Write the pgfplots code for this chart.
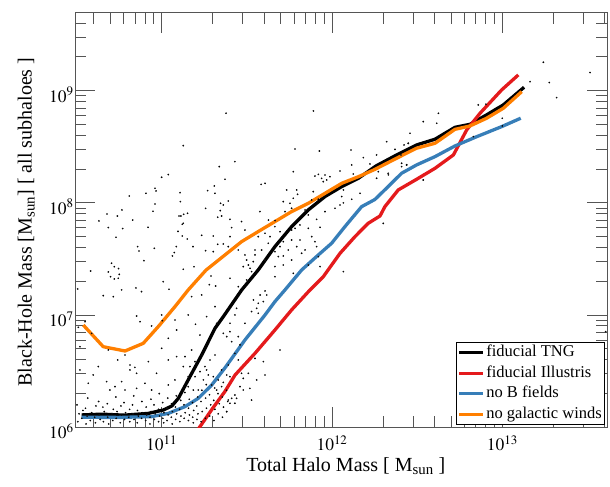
\documentclass[border=0pt]{standalone}
\usepackage{mathptmx}
\usepackage{fontspec}
\setmainfont{Liberation Serif}
\usepackage{pgfplots}
\usepackage{pgfplotstable}
\pgfplotsset{compat=1.18}
\definecolor{tngred}{RGB}{228,26,28}
\definecolor{tngblue}{RGB}{55,126,184}
\definecolor{tngorange}{RGB}{255,127,0}
\definecolor{axgray}{RGB}{85,85,85}

% all values are log10 of the masses
\pgfplotstableread{
lx ly
10.530 6.110
10.650 6.117
10.780 6.108
10.922 6.124
11.010 6.154
11.060 6.190
11.098 6.258
11.166 6.451
11.235 6.644
11.313 6.882
11.362 6.986
11.470 7.224
11.567 7.402
11.665 7.610
11.763 7.788
11.861 7.937
11.959 8.056
12.057 8.145
12.155 8.219
12.260 8.330
12.380 8.427
12.497 8.516
12.605 8.567
12.722 8.673
12.810 8.700
12.908 8.784
13.006 8.873
13.128 9.030
}\tngdata

\pgfplotstableread{
lx ly
11.190 5.930
11.225 6.006
11.300 6.170
11.372 6.320
11.431 6.466
11.548 6.659
11.665 6.867
11.763 7.046
11.871 7.224
11.949 7.342
12.047 7.550
12.135 7.699
12.213 7.818
12.282 7.883
12.311 7.967
12.389 8.115
12.497 8.210
12.605 8.308
12.713 8.427
12.791 8.650
12.869 8.798
12.996 9.006
13.094 9.140
}\illdata

\pgfplotstableread{
lx ly
10.530 6.089
10.750 6.088
10.941 6.095
11.039 6.124
11.137 6.184
11.215 6.258
11.294 6.377
11.372 6.530
11.489 6.778
11.607 7.001
11.665 7.120
11.724 7.224
11.822 7.402
11.920 7.536
11.998 7.640
12.076 7.788
12.174 7.966
12.252 8.030
12.330 8.145
12.409 8.264
12.497 8.338
12.605 8.412
12.722 8.507
12.850 8.590
12.996 8.679
13.108 8.754
}\nobdata

\pgfplotstableread{
lx ly
10.540 6.911
10.657 6.718
10.785 6.680
10.892 6.748
10.980 6.897
11.078 7.075
11.156 7.224
11.260 7.400
11.372 7.536
11.470 7.655
11.567 7.744
11.665 7.833
11.763 7.922
11.861 7.996
11.959 8.085
12.057 8.174
12.155 8.233
12.253 8.299
12.380 8.398
12.497 8.487
12.605 8.531
12.722 8.655
12.810 8.685
12.908 8.754
13.006 8.843
13.114 8.991
}\nowinddata

\pgfplotstableread{
lx ly
11.127 8.510
11.338 8.323
11.000 8.228
11.039 8.252
10.810 8.061
10.908 8.085
10.961 8.130
10.967 8.106
11.108 8.091
11.309 8.151
11.270 8.109
11.313 8.085
10.961 7.990
11.110 8.011
11.346 7.996
11.362 7.981
11.258 7.951
10.679 7.901
10.740 7.883
10.767 7.937
10.949 7.925
11.102 7.883
11.113 7.883
11.129 7.898
11.152 7.907
11.127 7.818
11.121 7.809
11.344 7.931
11.329 7.872
11.352 7.883
10.632 7.839
10.687 7.780
10.771 7.771
10.830 7.847
10.920 7.782
11.096 7.746
10.732 7.693
11.121 7.705
11.150 7.678
11.235 7.711
11.303 7.705
11.329 7.631
11.362 7.634
10.859 7.610
10.867 7.571
10.957 7.595
11.086 7.610
11.074 7.557
11.063 7.527
11.184 7.610
11.258 7.574
11.303 7.565
10.896 7.485
11.127 7.408
11.190 7.431
10.706 7.462
10.722 7.431
10.747 7.414
10.687 7.384
10.751 7.363
10.700 7.342
10.722 7.322
10.745 7.328
10.583 7.393
11.290 7.348
11.009 7.298
11.280 7.271
11.317 7.259
10.765 7.224
10.849 7.242
11.043 7.230
10.507 7.233
10.657 7.173
10.716 7.164
10.882 7.209
10.853 6.992
10.873 6.941
10.941 6.903
11.000 7.001
11.004 6.950
11.039 6.793
11.078 6.956
11.088 6.867
11.156 7.001
11.176 7.164
11.199 6.918
11.225 6.822
11.235 7.179
11.264 6.986
11.313 7.075
11.323 6.926
11.362 6.837
10.511 6.891
10.550 6.941
10.520 6.718
10.589 6.837
10.687 6.689
10.742 6.600
10.785 6.644
10.814 6.511
10.814 6.555
10.843 6.534
10.853 6.481
10.922 6.585
10.970 6.481
11.000 6.704
11.039 6.600
11.088 6.630
11.127 6.541
11.156 6.451
11.176 6.689
11.196 6.585
11.225 6.496
11.235 6.644
11.254 6.541
11.284 6.600
11.313 6.644
11.332 6.422
11.352 6.511
10.520 6.511
10.569 6.392
10.598 6.466
10.628 6.541
10.677 6.407
10.696 6.332
10.726 6.362
10.765 6.407
10.785 6.332
10.853 6.347
10.902 6.392
10.941 6.332
11.039 6.377
11.078 6.422
11.156 6.362
11.186 6.332
11.215 6.332
11.245 6.422
11.274 6.466
11.294 6.377
11.323 6.332
11.352 6.362
11.137 6.630
11.166 6.541
11.196 6.451
11.264 6.511
11.303 6.451
11.783 8.480
11.926 8.462
12.112 8.471
11.430 8.367
11.584 8.165
11.607 8.174
11.773 8.278
12.047 8.284
12.116 8.338
12.184 8.403
12.223 8.347
12.233 8.308
12.125 8.257
11.900 8.239
11.920 8.254
11.939 8.218
11.959 8.248
11.969 8.204
11.949 8.189
11.988 8.233
11.372 8.210
11.734 8.115
11.793 8.115
11.798 8.076
11.890 8.100
11.773 8.041
11.881 8.026
11.920 8.032
12.057 8.056
12.116 8.032
12.165 8.085
12.067 8.000
12.067 8.115
11.391 8.017
11.577 7.922
11.627 7.847
11.666 7.842
11.714 8.011
11.724 7.922
11.753 7.996
11.763 7.952
11.842 7.937
11.861 7.892
11.910 7.853
11.959 7.922
12.018 7.952
12.047 7.981
11.930 7.782
11.401 7.853
11.469 7.833
11.411 7.779
11.489 7.758
11.567 7.699
11.607 7.729
11.665 7.788
11.695 7.743
11.763 7.758
11.783 7.773
11.812 7.803
11.861 7.773
11.881 7.699
11.714 7.654
11.763 7.669
11.743 7.580
11.793 7.610
11.822 7.551
11.714 7.527
11.900 7.654
11.910 7.610
11.812 7.669
11.636 7.699
11.626 7.640
11.587 7.580
11.548 7.580
11.665 7.565
11.685 7.521
11.695 7.610
11.401 7.699
11.391 7.610
11.450 7.580
11.489 7.536
11.499 7.491
11.509 7.446
11.519 7.417
11.528 7.387
11.479 7.432
11.538 7.476
11.499 7.313
11.401 7.328
11.450 7.253
11.548 7.536
11.607 7.491
11.665 7.432
11.665 7.342
11.714 7.446
11.763 7.491
11.773 7.372
11.861 7.446
11.930 7.432
12.067 7.387
11.842 7.580
11.920 7.521
11.607 7.215
11.617 7.179
11.578 7.179
11.539 7.135
11.567 7.105
11.597 7.120
11.558 7.060
11.567 7.016
11.528 7.031
11.440 7.060
11.430 7.001
11.489 6.927
11.401 6.927
11.401 6.852
11.382 6.808
11.411 6.763
11.460 6.734
11.450 6.808
11.430 6.659
11.548 6.614
11.597 6.585
11.607 6.466
11.695 6.689
11.450 6.600
11.391 6.555
11.382 6.466
11.401 6.451
11.469 6.481
11.479 6.436
11.509 6.481
11.558 6.422
11.460 6.362
11.518 6.347
11.479 6.332
11.430 6.288
11.411 6.258
11.440 6.258
11.391 6.243
11.401 6.214
11.528 6.243
11.430 6.214
11.382 6.139
11.378 8.799
11.891 8.819
12.262 8.427
12.272 8.278
12.262 8.219
12.330 8.263
12.448 8.531
12.438 8.338
12.409 8.353
12.536 8.204
12.301 7.817
13.241 9.253
13.515 9.161
13.276 9.072
13.319 8.938
13.163 9.080
12.859 8.873
12.904 8.879
12.625 8.798
12.536 8.724
12.615 8.709
12.458 8.620
12.321 8.545
12.448 8.530
12.423 8.516
12.370 8.477
12.405 8.427
12.409 8.323
12.439 8.338
12.331 8.249
12.536 8.204
13.000 8.754
13.000 8.685
12.830 8.590
13.607 6.852
10.508 6.05
10.515 6.12
10.503 6.20
10.531 6.08
10.538 6.15
10.556 6.03
10.562 6.10
10.553 6.17
10.566 6.26
10.581 6.06
10.589 6.13
10.607 6.09
10.614 6.19
10.611 6.04
10.632 6.11
10.639 6.07
10.630 6.23
10.658 6.05
10.663 6.14
10.655 6.18
10.683 6.09
10.689 6.03
10.681 6.21
10.707 6.12
10.713 6.06
10.716 6.16
10.733 6.08
10.738 6.14
10.731 6.27
10.757 6.04
10.764 6.11
10.761 6.19
10.782 6.07
10.788 6.13
10.779 6.22
10.807 6.09
10.813 6.05
10.812 6.16
10.832 6.12
10.838 6.07
10.829 6.20
10.836 6.28
10.857 6.04
10.863 6.10
10.858 6.15
10.882 6.08
10.889 6.13
10.884 6.23
10.906 6.06
10.913 6.11
10.909 6.18
10.932 6.09
10.938 6.14
10.931 6.03
10.937 6.25
10.957 6.07
10.962 6.12
10.955 6.20
10.982 6.05
10.988 6.10
10.981 6.16
10.986 6.30
11.007 6.08
11.013 6.13
11.006 6.22
11.012 6.04
11.032 6.06
11.038 6.11
11.031 6.17
11.036 6.26
11.057 6.09
11.063 6.14
11.058 6.21
11.062 6.03
11.082 6.07
11.088 6.12
11.081 6.18
11.086 6.28
11.107 6.05
11.113 6.10
11.106 6.16
11.112 6.24
11.132 6.08
11.138 6.13
11.131 6.20
11.136 6.31
11.157 6.06
11.163 6.11
11.158 6.17
11.162 6.25
11.182 6.09
11.188 6.15
11.181 6.22
11.186 6.04
11.207 6.07
11.213 6.12
11.206 6.19
11.212 6.27
11.232 6.05
11.238 6.14
11.231 6.23
11.236 6.33
11.257 6.08
11.263 6.17
11.258 6.26
11.262 6.38
11.282 6.10
11.288 6.20
11.281 6.29
11.307 6.06
11.313 6.16
11.306 6.24
11.312 6.35
11.332 6.12
11.338 6.21
11.331 6.30
11.357 6.09
11.363 6.18
11.356 6.27
11.362 6.40
11.382 6.14
11.388 6.23
11.381 6.33
}\scatterdata

\begin{document}
\begin{tikzpicture}
\begin{axis}[
  scale only axis,
  width=532pt, height=414.6pt,
  xmode=log, ymode=log,
  xmin=3.1e10, xmax=4.12e13,
  ymin=1e6, ymax=4.95e9,
  axis line style={axgray, line width=1pt},
  every tick/.style={axgray, line width=0.9pt},
  major tick length=20pt, minor tick length=11pt,
  tick align=inside,
  tick label style={font=\fontsize{17.5}{20}\selectfont},
  xticklabel style={yshift=-5pt},
  yticklabel style={xshift=2pt, yshift=-4pt},
  xlabel={Total Halo Mass [ M\textsubscript{sun} ]},
  ylabel={Black-Hole Mass [M\textsubscript{sun}] [ all subhaloes ]},
  xlabel style={at={(axis description cs:0.509,-0.1066)}, anchor=base, font=\fontsize{20}{24}\selectfont},
  ylabel style={at={(axis description cs:-0.0814,0.495)}, anchor=base, font=\fontsize{20}{24}\selectfont},
  legend style={at={(axis description cs:0.716,0.2057)}, anchor=north west,
    draw=black, line width=0.8pt, fill=white,
    font=\fontsize{16.5}{19}\selectfont,
    inner xsep=1.5pt, inner ysep=0pt,
    nodes={inner sep=1.5pt, text height=13pt, text depth=4.5pt},
    row sep=0pt},
  legend cell align=left,
  legend image code/.code={\draw[#1, line width=3pt] (0pt,0pt) -- (24pt,0pt);},
]
\addplot[only marks, mark=*, mark size=0.65pt, mark options={draw=none, fill=black!50}, forget plot]
  table[x expr={10^(\thisrow{lx})}, y expr={10^(\thisrow{ly})}] {\scatterdata};
\addplot[black, line width=3.3pt, line join=round]
  table[x expr={10^(\thisrow{lx})}, y expr={10^(\thisrow{ly})}] {\tngdata};
\addlegendentry{fiducial TNG}
\addplot[tngred, line width=3.3pt, line join=round]
  table[x expr={10^(\thisrow{lx})}, y expr={10^(\thisrow{ly})}] {\illdata};
\addlegendentry{fiducial Illustris}
\addplot[tngblue, line width=3.3pt, line join=round]
  table[x expr={10^(\thisrow{lx})}, y expr={10^(\thisrow{ly})}] {\nobdata};
\addlegendentry{no B fields}
\addplot[tngorange, line width=3.3pt, line join=round]
  table[x expr={10^(\thisrow{lx})}, y expr={10^(\thisrow{ly})}] {\nowinddata};
\addlegendentry{no galactic winds}
\end{axis}
\pgfresetboundingbox
\path ([xshift=-75pt,yshift=-59.7pt]current axis.south west) rectangle ([xshift=3pt,yshift=12.7pt]current axis.north east);
\end{tikzpicture}
\end{document}
